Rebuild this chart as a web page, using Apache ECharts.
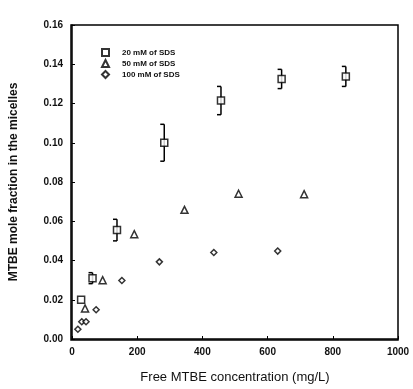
<!DOCTYPE html>
<html>
<head>
<meta charset="utf-8">
<script src="https://cdn.jsdelivr.net/npm/echarts@6/dist/echarts.min.js"></script>
<style>
html, body { margin: 0; padding: 0; background: #fff; }
#chart { width: 413px; height: 389px; }
</style>
</head>
<body>
<div id="chart"></div>
<script>
// 20 mM of SDS (squares, with error bars)
var sds20X = [28, 63, 138, 283, 457, 643, 840];
var sds20Y = [0.020, 0.031, 0.0555, 0.100, 0.1215, 0.1325, 0.1338];
var sds20Err = [0, 0.0028, 0.0055, 0.0094, 0.0072, 0.0049, 0.0051];
// 50 mM of SDS (triangles)
var sds50X = [40, 94, 191, 345, 511, 712];
var sds50Y = [0.0156, 0.0300, 0.0534, 0.0658, 0.0740, 0.0738];
// 100 mM of SDS (diamonds)
var sds100X = [18, 30, 43, 74, 153, 268, 435, 631];
var sds100Y = [0.005, 0.0088, 0.0088, 0.0149, 0.0298, 0.0393, 0.0441, 0.0448];

function pairs(xs, ys) {
    return xs.map(function (x, i) { return [x, ys[i]]; });
}

var errData = sds20X.map(function (x, i) {
    return [x, sds20Y[i] - sds20Err[i], sds20Y[i] + sds20Err[i]];
}).filter(function (d) { return d[2] > d[1]; });

var myChart = echarts.init(document.getElementById('chart'));
var font = 'Liberation Sans, Arial, sans-serif';

var option = {
    animation: false,
    backgroundColor: '#fff',
    grid: { left: 71, right: 15, top: 25, bottom: 49 },
    legend: {
        orient: 'vertical',
        left: 96,
        top: 43,
        itemWidth: 7,
        itemHeight: 7,
        itemGap: 2,
        textStyle: { fontFamily: font, fontSize: 8, fontWeight: 'bold', color: '#111', padding: [0, 0, 0, 8] },
        data: ['20 mM of SDS', '50 mM of SDS', '100 mM of SDS']
    },
    xAxis: {
        type: 'value',
        min: 0, max: 1000, interval: 200,
        name: 'Free MTBE concentration (mg/L)',
        nameLocation: 'middle',
        nameGap: 32,
        nameTextStyle: { fontFamily: font, fontSize: 13, color: '#111' },
        axisLine: { lineStyle: { color: '#000', width: 1.5 } },
        axisTick: { inside: true, length: 3, lineStyle: { color: '#000' } },
        axisLabel: {
            fontFamily: font, fontSize: 10, fontWeight: 'bold', color: '#111', margin: 8,
            formatter: function (v) { return String(v); }
        },
        splitLine: { show: false }
    },
    yAxis: {
        type: 'value',
        min: 0, max: 0.16, interval: 0.02,
        name: 'MTBE mole fraction in the micelles',
        nameLocation: 'middle',
        nameGap: 52,
        nameTextStyle: { fontFamily: font, fontSize: 12, fontWeight: 'bold', color: '#111' },
        axisLine: { lineStyle: { color: '#000', width: 1.5 } },
        axisTick: { inside: true, length: 3, lineStyle: { color: '#000' } },
        axisLabel: {
            fontFamily: font, fontSize: 10, fontWeight: 'bold', color: '#111', margin: 9,
            formatter: function (v) { return v.toFixed(2); }
        },
        splitLine: { show: false }
    },
    series: [
        {
            type: 'custom',
            name: 'err',
            silent: true,
            data: errData,
            renderItem: function (params, api) {
                var x = api.value(0);
                var lo = api.coord([x, api.value(1)]);
                var hi = api.coord([x, api.value(2)]);
                var style = { stroke: '#000', lineWidth: 1.5 };
                return {
                    type: 'group',
                    children: [
                        { type: 'line', shape: { x1: lo[0], y1: lo[1], x2: hi[0], y2: hi[1] }, style: style },
                        { type: 'line', shape: { x1: lo[0] - 4, y1: lo[1], x2: lo[0], y2: lo[1] }, style: style },
                        { type: 'line', shape: { x1: hi[0] - 4, y1: hi[1], x2: hi[0], y2: hi[1] }, style: style }
                    ]
                };
            },
            z: 1
        },
        {
            name: '20 mM of SDS',
            type: 'scatter',
            symbol: 'rect',
            symbolSize: 7,
            itemStyle: { color: '#fff', borderColor: '#000', borderWidth: 1.5 },
            data: pairs(sds20X, sds20Y),
            z: 3
        },
        {
            name: '50 mM of SDS',
            type: 'scatter',
            symbol: 'triangle',
            symbolSize: 7,
            itemStyle: { color: '#fff', borderColor: '#000', borderWidth: 1.5 },
            data: pairs(sds50X, sds50Y),
            z: 3
        },
        {
            name: '100 mM of SDS',
            type: 'scatter',
            symbol: 'diamond',
            symbolSize: 6,
            itemStyle: { color: '#fff', borderColor: '#000', borderWidth: 1.5 },
            data: pairs(sds100X, sds100Y),
            z: 3
        }
    ],
    graphic: [
        // box frame on the top and right sides
        {
            type: 'rect',
            shape: { x: 71, y: 25, width: 327, height: 315 },
            style: { fill: 'none', stroke: '#000', lineWidth: 1.5 },
            silent: true,
            z: 0
        }
    ]
};
myChart.setOption(option);
window.addEventListener('resize', function () {
    myChart.resize();
});
</script>
</body>
</html>
